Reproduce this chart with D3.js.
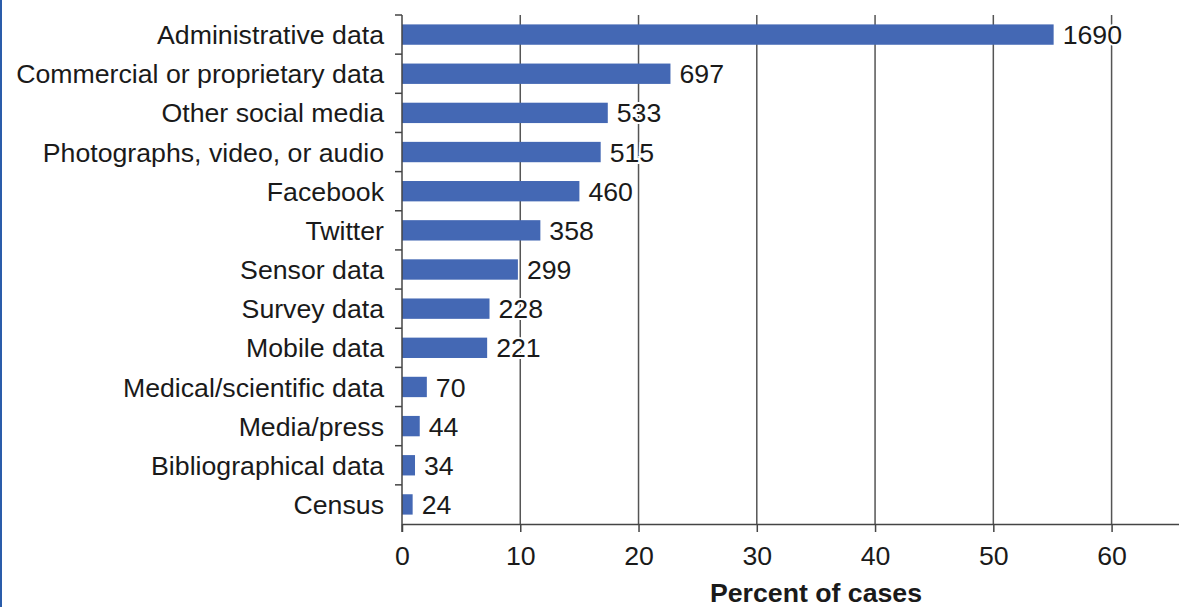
<!DOCTYPE html>
<html><head><meta charset="utf-8">
<script src="https://cdn.jsdelivr.net/npm/d3@7"></script>
<style>
body{margin:0;background:#fff;}
text{font-family:"Liberation Sans",Arial,Helvetica,sans-serif;}
</style></head>
<body><svg id="c" width="1179" height="607"></svg>
<script>
const categories = ["Administrative data","Commercial or proprietary data","Other social media","Photographs, video, or audio","Facebook","Twitter","Sensor data","Survey data","Mobile data","Medical/scientific data","Media/press","Bibliographical data","Census"];
const counts = [1690,697,533,515,460,358,299,228,221,70,44,34,24];
const percents = [55.1,22.7,17.4,16.8,15.0,11.7,9.8,7.4,7.2,2.1,1.5,1.1,0.9];
const xTicks = [0,10,20,30,40,50,60];
const xTitle = "Percent of cases";

const FS = 26.7;
const svg = d3.select("#c");
const m = {left:402, top:15, right:1179, bottom:524};
const x = d3.scaleLinear().domain([0,65.7]).range([m.left, m.right]);
const y = d3.scaleBand().domain(categories).range([m.top, m.bottom]).paddingInner(0.48).paddingOuter(0.24);

// left border line
svg.append("rect").attr("x",0).attr("y",0).attr("width",2).attr("height",607).attr("fill","#2a5caa");

// gridlines
svg.append("g").selectAll("line").data(xTicks.filter(d=>d>0)).join("line")
  .attr("x1",d=>x(d)).attr("x2",d=>x(d)).attr("y1",m.top).attr("y2",m.bottom)
  .attr("stroke","#555").attr("stroke-width",1.5);

// bars
svg.append("g").selectAll("rect").data(categories).join("rect")
  .attr("x",x(0)).attr("y",d=>y(d)).attr("height",y.bandwidth())
  .attr("width",(d,i)=>x(percents[i])-x(0)).attr("fill","#4468b4");

// value labels
svg.append("g").selectAll("text").data(categories).join("text")
  .attr("x",(d,i)=>x(percents[i])+9).attr("y",d=>y(d)+y.bandwidth()/2).attr("dy","0.36em")
  .attr("font-size",FS).attr("fill","#1a1a1a")
  .attr("stroke","#fff").attr("stroke-width",4).attr("paint-order","stroke")
  .text((d,i)=>counts[i]);

// y axis
const yAxisG = svg.append("g").attr("transform",`translate(${m.left},0)`);
yAxisG.append("line").attr("x1",0).attr("x2",0).attr("y1",m.top).attr("y2",m.bottom+8).attr("stroke","#444").attr("stroke-width",1.5);
const edges = d3.range(categories.length).map(i=>m.top+i*(m.bottom-m.top)/categories.length);
yAxisG.selectAll("line.t").data(edges).join("line").attr("class","t")
  .attr("x1",-7).attr("x2",0).attr("y1",d=>d).attr("y2",d=>d).attr("stroke","#444").attr("stroke-width",1.5);
yAxisG.selectAll("text").data(categories).join("text")
  .attr("x",-18).attr("y",d=>y(d)+y.bandwidth()/2).attr("dy","0.36em")
  .attr("text-anchor","end").attr("font-size",FS).attr("fill","#1a1a1a").text(d=>d);

// x axis
const xAxis = d3.axisBottom(x).tickValues(xTicks).tickSize(8).tickPadding(14).tickSizeOuter(0);
const xg = svg.append("g").attr("transform",`translate(0,${m.bottom})`).call(xAxis);
xg.select(".domain").attr("stroke","#444").attr("stroke-width",1.5);
xg.selectAll(".tick line").attr("stroke","#444").attr("stroke-width",1.5);
xg.selectAll(".tick text").attr("font-size",FS).attr("fill","#1a1a1a").attr("font-family","Liberation Sans, Arial, sans-serif");

svg.append("text").attr("x",816).attr("y",602).attr("text-anchor","middle")
  .attr("font-size",FS).attr("font-weight","bold").attr("fill","#1a1a1a").text(xTitle);
</script></body></html>
